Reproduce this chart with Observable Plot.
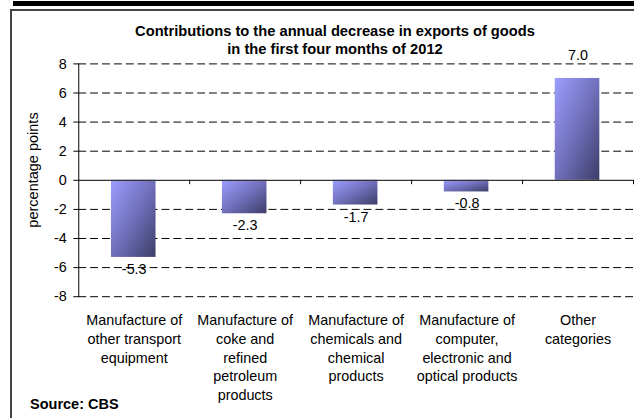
<!DOCTYPE html>
<html>
<head>
<meta charset="utf-8">
<script src="https://cdn.jsdelivr.net/npm/d3@7"></script>
<script src="https://cdn.jsdelivr.net/npm/@observablehq/plot@0.6"></script>
<style>
  html, body { margin: 0; padding: 0; background: #fff; }
  body { width: 634px; height: 418px; overflow: hidden; position: relative;
         font-family: "Liberation Sans", Arial, sans-serif; color: #000; }
  #topbar { position: absolute; left: 13px; top: 1px; width: 640px; height: 5px; background: #000; }
  #frame { position: absolute; left: 10px; top: 9px; width: 640px; height: 420px;
           border-left: 2px solid #444; border-top: 2px solid #444; }
  #title { position: absolute; left: 35px; top: 22px; width: 600px; text-align: center;
           font-weight: bold; font-size: 14.7px; line-height: 18px; }
  #ylabel { position: absolute; left: 33px; top: 170px; transform: translate(-50%, -50%) rotate(-90deg);
            white-space: nowrap; font-size: 14.5px; }
  #source { position: absolute; left: 30px; top: 395px; font-weight: bold; font-size: 14.5px; line-height: 18px; }
  #chart { position: absolute; left: 0; top: 0; }
</style>
</head>
<body>
<div id="topbar"></div>
<div id="frame"></div>
<div id="chart"></div>
<div id="title">Contributions to the annual decrease in exports of goods<br>in the first four months of 2012</div>
<div id="ylabel">percentage points</div>
<div id="source">Source: CBS</div>
<script>
const categories = [
  "Manufacture of\nother transport\nequipment",
  "Manufacture of\ncoke and\nrefined\npetroleum\nproducts",
  "Manufacture of\nchemicals and\nchemical\nproducts",
  "Manufacture of\ncomputer,\nelectronic and\noptical products",
  "Other\ncategories"
];
const values = [-5.3, -2.3, -1.7, -0.8, 7.0];
const yTicks = [-8, -6, -4, -2, 0, 2, 4, 6, 8];

const data = categories.map((c, i) => ({cat: c, value: values[i]}));
const W = 640, H = 418, ML = 79, MR = 1, MT = 64, MB = 119;
const band = (W - ML - MR) / categories.length;

const chart = Plot.plot({
  width: W,
  height: H,
  marginLeft: ML,
  marginRight: MR,
  marginTop: MT,
  marginBottom: MB,
  style: {fontFamily: '"Liberation Sans", Arial, sans-serif', fontSize: "14.5px", color: "#000", background: "transparent", overflow: "visible"},
  x: {domain: categories, padding: 0, label: null},
  y: {domain: [-8, 8], label: null},
  marks: [
    Plot.ruleY(yTicks.filter(d => d !== 0), {stroke: "#000", strokeWidth: 1, strokeDasharray: "8,4"}),
    Plot.barY(data, {x: "cat", y: "value", fill: "url(#barGrad)", insetLeft: 33, insetRight: 34}),
    Plot.ruleY([0], {stroke: "#333", strokeWidth: 1.3}),
    Plot.ruleX(categories, {x: d => d, y1: 0, y2: -0.3, dx: band / 2, stroke: "#000"}),
    Plot.frame({anchor: "left", stroke: "#000"}),
    Plot.axisY(yTicks, {tickSize: 5, tickPadding: 7, fontSize: 14.5, label: null, tickFormat: d => String(d)}),
    Plot.axisX({tickSize: 0, tickPadding: 15, fontSize: 14.5, lineHeight: 1.31, label: null}),
    Plot.text(data.filter(d => d.value < 0), {x: "cat", y: "value", text: d => d.value.toFixed(1), dy: 12, fontSize: 14.5, fill: "#000"}),
    Plot.text(data.filter(d => d.value >= 0), {x: "cat", y: "value", text: d => d.value.toFixed(1), dy: -23, fontSize: 14.5, fill: "#000"})
  ]
});

d3.select(chart).insert("defs", ":first-child").html(
  '<linearGradient id="barGrad" x1="0" y1="0" x2="1" y2="1">' +
  '<stop offset="0" stop-color="#9d9dff"/>' +
  '<stop offset="0.5" stop-color="#7070bc"/>' +
  '<stop offset="1" stop-color="#3d3d68"/>' +
  '</linearGradient>'
);

document.getElementById("chart").appendChild(chart);
</script>
</body>
</html>
